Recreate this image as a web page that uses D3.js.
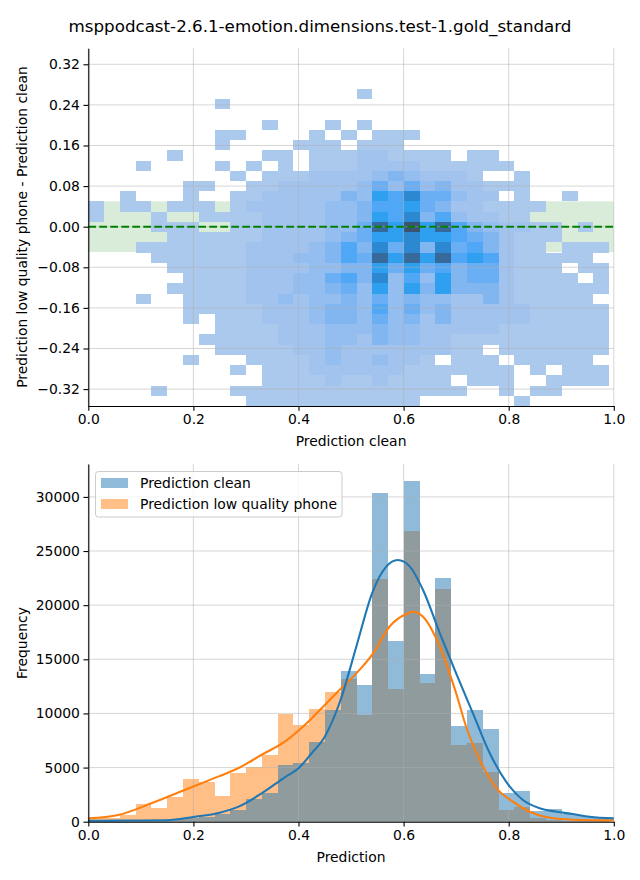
<!DOCTYPE html>
<html><head><meta charset="utf-8">
<script src="https://cdn.jsdelivr.net/npm/d3@7"></script>
<style>body{margin:0;background:#fff}svg{display:block}text{font-family:"DejaVu Sans",sans-serif;fill:#000}</style>
</head><body><svg id="c" width="640" height="880"></svg>
<script>
const title = "msppodcast-2.6.1-emotion.dimensions.test-1.gold_standard";

// ---------- top panel: 2D histogram (difference vs clean prediction) ----------
const xBinRange = [0, 0.991];      // 33 columns
const yBinRange = [-0.3533, 0.2713]; // 31 rows
// count level per cell ('.' = empty), rows listed from top (highest diff) to bottom
const heatRows = [
  ".................1...............",
  "........1........................",
  ".................................",
  "...........1...1.1...............",
  "........11....1.1.111............",
  "........1....111.111.............",
  ".....1.....11.111221111.11.......",
  "...1....1.1.1.1112222111111......",
  ".........1.11122223432221..1.....",
  "......11..112222235353422111.....",
  "..1...1..11222224376855322.1..1..",
  "1.11.111.12222233466754221111....",
  "1...1..111122223347684632211.....",
  "....111..11222233597a796432211.1.",
  ".....1111112222345778776542111...",
  "...11111112222346485848564211.111",
  "....1111112223346597979676211111.",
  ".....1111122223344757564552111.11",
  "......1111222335648363745521111.1",
  ".....1111122233453737474442111111",
  "...1..11112232334353433224211111.",
  "......111112223443635342222211111",
  "......1.1112223443534242222211111",
  "........1111222333433222221111111",
  ".......11111222332433221111111111",
  "........11111223222222211.1111111",
  "......1...111123223221.111.11111.",
  ".........1.1112222221111111.1.111",
  "...........111121121111.111..1111",
  "....1....111111111111111..1.11...",
  "..........11111111111......1....."
];
const levelColors = ["#abc8ed","#a2c3ee","#94bdf0","#82b6f1","#6aaef3","#4fa7f5","#2f9fef","#2c88d0","#38699b","#3c5473"];
const toleranceBand = 0.05;
const yTicksTop = [-0.32,-0.24,-0.16,-0.08,0,0.08,0.16,0.24,0.32];
const xTicks = [0,0.2,0.4,0.6,0.8,1.0];

// ---------- bottom panel: histograms + KDE ----------
const histRange = [0, 0.991]; // 33 bins
const countsClean = [50,80,100,150,200,250,300,400,710,1080,2070,2680,5240,5390,7390,10320,13920,12630,30360,16690,31470,13640,22500,8840,10320,8560,2680,2830,990,1170,710,530,400];
const countsPhone = [350,350,600,1650,1250,2250,3940,3640,2370,4530,5080,6160,9950,8930,10400,11950,13180,9860,22420,12260,26860,12780,21480,7080,7240,4560,1080,1390,340,160,100,60,40];
const kdeCleanX = [0,0.05,0.1,0.15,0.2,0.25,0.286,0.33,0.374,0.4,0.425,0.45,0.48,0.51,0.54,0.567,0.589,0.612,0.637,0.669,0.7,0.732,0.764,0.795,0.827,0.859,0.891,0.922,0.954,1.0];
const kdeCleanY = [90,100,110,130,440,830,1390,2620,4100,4930,6320,7850,11240,16160,21100,23560,24170,23560,21400,17400,13700,10010,6320,3700,2000,1240,920,710,460,310];
const kdePhoneX = [0,0.057,0.12,0.183,0.247,0.291,0.329,0.374,0.412,0.45,0.478,0.51,0.542,0.573,0.605,0.618,0.637,0.669,0.7,0.719,0.745,0.777,0.808,0.84,0.871,0.922,1.0];
const kdePhoneY = [310,620,1700,2930,4160,5080,6160,7390,8930,10780,12170,13700,15550,18010,19180,19400,18930,16160,11860,8770,5700,3080,1850,920,430,180,120];
const yTicksBottom = [0,5000,10000,15000,20000,25000,30000];
const seriesNames = ["Prediction clean","Prediction low quality phone"];
const seriesColors = ["#1f77b4","#ff7f0e"];

const svg = d3.select("#c");
const L = 88.3, R = 613.8;
const x = d3.scaleLinear().domain([0,1]).range([L,R]);
const gridCol = "#b0b0b0";
const TICK = 4.86, SPINE = 1.1;

svg.append("text").attr("x",320).attr("y",32).attr("text-anchor","middle").style("font-size","16.7px").text(title);

// ===== top panel =====
const yT = d3.scaleLinear().domain([-0.3533,0.3515]).range([406,48.3]);
const gTop = svg.append("g");
gTop.append("rect").attr("x",x(0)).attr("width",x(1)-x(0))
  .attr("y",yT(toleranceBand)).attr("height",yT(-toleranceBand)-yT(toleranceBand))
  .attr("fill","green").attr("fill-opacity",0.15);

const nCols = heatRows[0].length, nRows = heatRows.length;
const colEdges = d3.range(nCols+1).map(k => xBinRange[0] + k*(xBinRange[1]-xBinRange[0])/nCols);
const rowEdges = d3.range(nRows+1).map(k => yBinRange[0] + k*(yBinRange[1]-yBinRange[0])/nRows);
const color = d3.scaleLinear().domain(d3.range(1,11)).range(levelColors);
const cells = [];
heatRows.forEach((row, r) => {
  const j = nRows-1-r;
  for (let i=0;i<row.length;i++){
    const ch=row[i]; if(ch===".") continue;
    cells.push({i,j,v: ch==="a"?10:+ch});
  }
});
gTop.selectAll("rect.cell").data(cells).join("rect").attr("class","cell")
  .attr("x",d=>x(colEdges[d.i])).attr("width",d=>x(colEdges[d.i+1])-x(colEdges[d.i]))
  .attr("y",d=>yT(rowEdges[d.j+1])).attr("height",d=>yT(rowEdges[d.j])-yT(rowEdges[d.j+1]))
  .attr("fill",d=>color(d.v)).attr("shape-rendering","crispEdges");

// grid
gTop.selectAll("line.gx").data(xTicks).join("line").attr("x1",d=>x(d)).attr("x2",d=>x(d))
  .attr("y1",48.3).attr("y2",406).attr("stroke",gridCol).attr("stroke-opacity",0.5).attr("stroke-width",1);
gTop.selectAll("line.gy").data(yTicksTop).join("line").attr("y1",d=>yT(d)).attr("y2",d=>yT(d))
  .attr("x1",L).attr("x2",R).attr("stroke",gridCol).attr("stroke-opacity",0.5).attr("stroke-width",1);
gTop.append("line").attr("x1",x(0)).attr("x2",x(1)).attr("y1",yT(0)).attr("y2",yT(0))
  .attr("stroke","green").attr("stroke-width",2.08).attr("stroke-dasharray","7.7,3.3");

function styleAxis(g){
  g.selectAll("path.domain").attr("stroke","#000").attr("stroke-width",SPINE);
  g.selectAll(".tick line").attr("stroke","#000").attr("stroke-width",SPINE);
  g.selectAll(".tick text").style("font-size","13.9px").style("font-family","DejaVu Sans");
}
const fmt2 = d3.format(".2f"), fmt1 = d3.format(".1f");
svg.append("g").attr("transform","translate(0,406)")
  .call(d3.axisBottom(x).tickValues(xTicks).tickFormat(fmt1).tickSize(TICK).tickPadding(3.5).tickSizeOuter(0)).call(styleAxis);
svg.append("g").attr("transform",`translate(${L},0)`)
  .call(d3.axisLeft(yT).tickValues(yTicksTop).tickFormat(fmt2).tickSize(TICK).tickPadding(3.5).tickSizeOuter(0)).call(styleAxis);
svg.append("text").attr("x",(L+R)/2).attr("y",446).attr("text-anchor","middle").style("font-size","13.9px").text("Prediction clean");
svg.append("text").attr("transform","translate(27,227) rotate(-90)").attr("text-anchor","middle").style("font-size","13.9px")
  .text("Prediction low quality phone - Prediction clean");

// ===== bottom panel =====
const yB = d3.scaleLinear().domain([0,33040]).range([821.7,464]);
const gB = svg.append("g");
const nb = countsClean.length;
const hEdges = d3.range(nb+1).map(k => histRange[0] + k*(histRange[1]-histRange[0])/nb);
function bars(counts, col){
  gB.append("g").selectAll("rect").data(counts).join("rect")
    .attr("x",(d,i)=>x(hEdges[i])).attr("width",(d,i)=>x(hEdges[i+1])-x(hEdges[i]))
    .attr("y",d=>yB(d)).attr("height",d=>yB(0)-yB(d))
    .attr("fill",col).attr("fill-opacity",0.5).attr("shape-rendering","crispEdges");
}
bars(countsPhone, seriesColors[1]);
bars(countsClean, seriesColors[0]);
gB.selectAll("line.gx").data(xTicks).join("line").attr("x1",d=>x(d)).attr("x2",d=>x(d))
  .attr("y1",464).attr("y2",821.7).attr("stroke",gridCol).attr("stroke-opacity",0.5).attr("stroke-width",1);
gB.selectAll("line.gy").data(yTicksBottom).join("line").attr("y1",d=>yB(d)).attr("y2",d=>yB(d))
  .attr("x1",L).attr("x2",R).attr("stroke",gridCol).attr("stroke-opacity",0.5).attr("stroke-width",1);
const line = d3.line().x(d=>x(d[0])).y(d=>yB(d[1])).curve(d3.curveMonotoneX);
gB.append("path").attr("d",line(d3.zip(kdePhoneX,kdePhoneY))).attr("fill","none").attr("stroke",seriesColors[1]).attr("stroke-width",2.08);
gB.append("path").attr("d",line(d3.zip(kdeCleanX,kdeCleanY))).attr("fill","none").attr("stroke",seriesColors[0]).attr("stroke-width",2.08);

svg.append("g").attr("transform","translate(0,821.7)")
  .call(d3.axisBottom(x).tickValues(xTicks).tickFormat(fmt1).tickSize(TICK).tickPadding(3.5).tickSizeOuter(0)).call(styleAxis);
svg.append("g").attr("transform",`translate(${L},0)`)
  .call(d3.axisLeft(yB).tickValues(yTicksBottom).tickFormat(d3.format("d")).tickSize(TICK).tickPadding(3.5).tickSizeOuter(0)).call(styleAxis);
svg.append("text").attr("x",(L+R)/2).attr("y",862).attr("text-anchor","middle").style("font-size","13.9px").text("Prediction");
svg.append("text").attr("transform","translate(27,643) rotate(-90)").attr("text-anchor","middle").style("font-size","13.9px").text("Frequency");

// legend
const lg = svg.append("g");
lg.append("rect").attr("x",95.5).attr("y",471.5).attr("width",246.5).attr("height",45.5).attr("rx",3)
  .attr("fill","#fff").attr("fill-opacity",0.8).attr("stroke","#cccccc").attr("stroke-width",1);
seriesNames.forEach((n,k)=>{
  lg.append("rect").attr("x",101).attr("y",478+k*21).attr("width",27).attr("height",10)
    .attr("fill",seriesColors[k]).attr("fill-opacity",0.5);
  lg.append("text").attr("x",140).attr("y",488+k*21).style("font-size","13.9px").text(n);
});
</script></body></html>
